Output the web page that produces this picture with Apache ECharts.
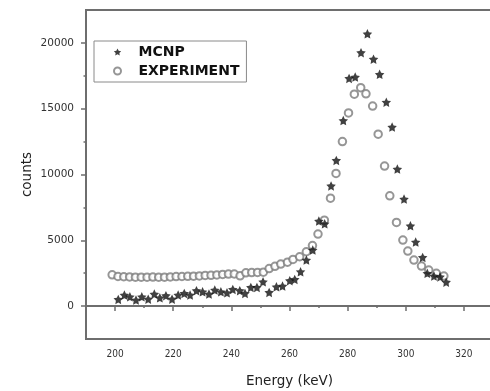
<!DOCTYPE html>
<html><head><meta charset="utf-8">
<script src="https://cdn.jsdelivr.net/npm/echarts@6/dist/echarts.min.js"></script>
<style>html,body{margin:0;padding:0;background:#fff}#c{width:490px;height:391px}</style>
</head><body><div id="c"></div>
<script>
// ---- data ----
const xTicks = [200, 220, 240, 260, 280, 300, 320];
const xMinorTicks = [210, 230, 250, 270, 290, 310];
const yTicks = [0, 5000, 10000, 15000, 20000];
const yMinorTicks = [2500, 7500, 12500, 17500];

const energyMcnp = [201.1, 203.2, 205.1, 207.2, 209.2, 211.4, 213.5, 215.4, 217.5, 219.6,
  221.7, 223.8, 225.8, 228, 230.1, 232.3, 234.3, 236.4, 238.5, 240.5,
  242.9, 244.7, 246.7, 248.8, 250.9, 253, 255.5, 257.6, 260.1, 261.8,
  263.8, 265.8, 268, 270.1, 272.1, 274.3, 276.1, 278.5, 280.5, 282.6,
  284.6, 286.8, 288.9, 291, 293.3, 295.3, 297.1, 299.4, 301.6, 303.4,
  305.8, 307.4, 309.7, 311.8, 313.9];
const countsMcnp = [510, 840, 710, 460, 710, 530, 910, 630, 790, 530,
  840, 960, 840, 1170, 1090, 910, 1220, 1090, 1010, 1270,
  1170, 960, 1420, 1420, 1850, 1040, 1470, 1520, 1930, 2030,
  2610, 3500, 4260, 6460, 6250, 9130, 11070, 14100, 17300, 17400,
  19260, 20690, 18760, 17610, 15490, 13600, 10410, 8130, 6100, 4870,
  3700, 2490, 2280, 2220, 1820];

const energyExp = [199, 201, 203, 205, 207, 209, 211, 213, 215, 217,
  219, 221, 223, 225, 227, 229, 231, 233, 235, 237,
  239, 241, 243, 245, 247, 249, 251, 253, 255, 257,
  259.3, 261.2, 263.5, 265.8, 267.9, 269.8, 272, 274.1, 276, 278.2,
  280.3, 282.3, 284.5, 286.3, 288.6, 290.5, 292.7, 294.5, 296.8, 299,
  300.7, 302.8, 305.4, 307.9, 310.5, 313.1];
const countsExp = [2380, 2250, 2230, 2220, 2200, 2200, 2200, 2210, 2200, 2200,
  2220, 2240, 2250, 2260, 2270, 2290, 2330, 2340, 2370, 2410,
  2430, 2440, 2300, 2530, 2550, 2560, 2580, 2850, 3020, 3190,
  3340, 3550, 3750, 4130, 4600, 5470, 6530, 8200, 10080, 12500,
  14680, 16100, 16600, 16130, 15200, 13060, 10640, 8380, 6360, 5020,
  4180, 3500, 3040, 2740, 2490, 2280];

const STAR = 'path://M50,0 L64.7,29.8 L97.6,34.5 L73.8,57.7 L79.4,90.5 L50,75 L20.6,90.5 L26.2,57.7 L2.4,34.5 L35.3,29.8 Z';
const AX = '#6e6e6e';

const chart = echarts.init(document.getElementById('c'), null, {renderer: 'canvas'});
chart.setOption({
  animation: false,
  backgroundColor: '#fff',
  grid: {left: 86, top: 10, width: 407, height: 329, show: true, borderColor: AX, borderWidth: 2,
         backgroundColor: 'transparent', containLabel: false, outerBoundsMode: 'none'},
  legend: {
    data: ['MCNP', 'EXPERIMENT'], orient: 'vertical', left: 94, top: 41,
    padding: [4, 7, 4, 19], itemWidth: 32, itemHeight: 7, itemGap: 5,
    borderColor: '#8a8a8a', borderWidth: 1, backgroundColor: '#fff',
    textStyle: {fontFamily: 'DejaVu Sans', fontWeight: 'bold', fontSize: 14, color: '#111'}
  },
  xAxis: [{
    type: 'value', min: 190, max: 330, position: 'bottom',
    name: 'Energy (keV)', nameLocation: 'middle', nameGap: 35, nameMoveOverlap: false,
    nameTextStyle: {fontFamily: 'DejaVu Sans', fontSize: 13.5, color: '#222'},
    axisLine: {show: true, lineStyle: {color: AX, width: 2}},
    axisTick: {show: true, customValues: xTicks, length: 5, lineStyle: {color: AX, width: 1.5}},
    axisLabel: {customValues: xTicks, fontFamily: "'Liberation Sans Narrow', 'DejaVu Sans Condensed', sans-serif",
                fontSize: 10, color: '#333', margin: 10, formatter: v => String(v)},
    splitLine: {show: false}
  }, {
    type: 'value', min: 190, max: 330, position: 'bottom',
    axisLine: {show: false},
    axisTick: {show: true, customValues: xMinorTicks, length: 2, lineStyle: {color: AX, width: 1.5}},
    axisLabel: {show: false}, splitLine: {show: false}
  }],
  yAxis: [{
    type: 'value', min: -2500, max: 22500, position: 'left',
    name: 'counts', nameLocation: 'middle', nameGap: 52, nameRotate: 90, nameMoveOverlap: false,
    nameTextStyle: {fontFamily: 'DejaVu Sans', fontSize: 13.5, color: '#222'},
    axisLine: {show: true, lineStyle: {color: AX, width: 2}},
    axisTick: {show: true, customValues: yTicks, length: 5, lineStyle: {color: AX, width: 1.5}},
    axisLabel: {customValues: yTicks, fontFamily: 'DejaVu Sans', fontSize: 10.5, color: '#333', margin: 12,
                formatter: v => String(v)},
    splitLine: {show: false}
  }, {
    type: 'value', min: -2500, max: 22500, position: 'left',
    axisLine: {show: false},
    axisTick: {show: true, customValues: yMinorTicks, length: 2.5, lineStyle: {color: AX, width: 1.5}},
    axisLabel: {show: false}, splitLine: {show: false}
  }],
  series: [{
    name: 'EXPERIMENT', type: 'scatter', xAxisIndex: 0, yAxisIndex: 0,
    data: energyExp.map((e, i) => [e, countsExp[i]]),
    symbol: 'emptyCircle', symbolSize: 7.5,
    itemStyle: {color: '#7c7c7c', borderColor: '#7c7c7c', borderWidth: 1.8}
  }, {
    name: 'MCNP', type: 'scatter', xAxisIndex: 0, yAxisIndex: 0,
    data: energyMcnp.map((e, i) => [e, countsMcnp[i]]),
    symbol: STAR, symbolSize: 9.5,
    itemStyle: {color: '#111'}
  }]
});
</script></body></html>
